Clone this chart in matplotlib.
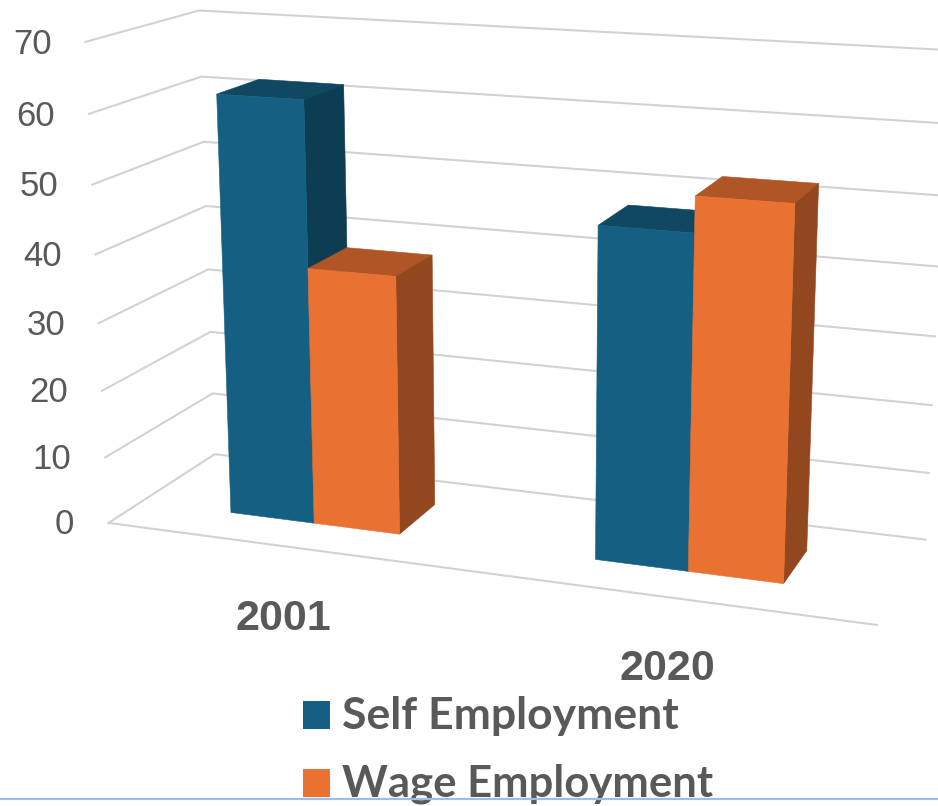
import numpy as np
import matplotlib.pyplot as plt
from matplotlib.patches import Rectangle

# Employment shares by year
years = ["2001", "2020"]
series_names = ["Self Employment", "Wage Employment"]
self_employment = [62.0, 47.6]
wage_employment = [38.0, 52.6]
ticks = [0, 10, 20, 30, 40, 50, 60, 70]

front_colors = ["#156082", "#E97132"]
top_colors = ["#104861", "#AF5526"]
side_colors = ["#0D3D52", "#93471E"]
grid_color = "#D2D2D2"
text_color = "#595959"

# Pixel positions of the gridline ends, used to fit the camera
front_ends = [(108.3, 522.7), (105, 457.7), (102, 390.7), (99, 323.3),
              (96, 254), (92.3, 184.3), (89, 114), (85.7, 42)]
back_ends = [(215, 454), (212.7, 394), (210, 331.7), (208.7, 269),
             (206.7, 206), (204, 141.7), (200.7, 76.7), (198, 10.7)]
right_ends = [(925.7, 539.7), (928.3, 473), (931.7, 405.3), (935, 336),
              (938, 266.7), (941.5, 195), (945, 123.3), (948, 50.5)]
floor_corner = (876.7, 625)


def fit_camera():
    # Direct linear transform from (x, value, depth) to pixels
    pts = []
    for i, v in enumerate(ticks):
        pts.append((0, v / 70, 0, *front_ends[i]))
        pts.append((0, v / 70, 1, *back_ends[i]))
        pts.append((1, v / 70, 1, *right_ends[i]))
    pts.append((1, 0, 0, *floor_corner))
    A, b = [], []
    for X, V, D, u, w in pts:
        A.append([X, V, D, 1, 0, 0, 0, 0, -u * X, -u * V, -u * D])
        b.append(u)
        A.append([0, 0, 0, 0, X, V, D, 1, -w * X, -w * V, -w * D])
        b.append(w)
    p = np.linalg.lstsq(np.array(A), np.array(b), rcond=None)[0]
    return np.append(p, 1).reshape(3, 4)


P = fit_camera()


def project(x, value, depth):
    r = P @ np.array([x, value / 70, depth, 1])
    return r[0] / r[2], r[1] / r[2]


def face(corners, color):
    xy = np.array([project(*c) for c in corners])
    ax.fill(xy[:, 0], xy[:, 1], color=color, lw=0.4, zorder=3)


def draw_bar(x0, x1, value, k):
    d0, d1 = 0.30, 0.70
    face([(x0, value, d0), (x1, value, d0), (x1, value, d1), (x0, value, d1)], top_colors[k])
    face([(x1, 0, d0), (x1, value, d0), (x1, value, d1), (x1, 0, d1)], side_colors[k])
    face([(x0, 0, d0), (x1, 0, d0), (x1, value, d0), (x0, value, d0)], front_colors[k])


fig = plt.figure(figsize=(9.38, 8.06), dpi=100)
ax = fig.add_axes([0, 0, 1, 1])
ax.set_xlim(0, 938)
ax.set_ylim(806, 0)
ax.axis("off")

# Walls
for v in ticks:
    xy = np.array([project(0, v, 0), project(0, v, 1), project(1, v, 1)])
    ax.plot(xy[:, 0], xy[:, 1], color=grid_color, lw=1.5, zorder=1)
xy = np.array([project(0, 0, 0), project(1, 0, 0)])
ax.plot(xy[:, 0], xy[:, 1], color=grid_color, lw=1.5, zorder=1)

# Bars, two to a year, with the gap shared out on either side
band = 0.5
bar_w = 0.119
offset = 0.13
for i in range(len(years)):
    x0 = i * band + offset
    draw_bar(x0, x0 + bar_w, self_employment[i], 0)
    draw_bar(x0 + bar_w, x0 + 2 * bar_w, wage_employment[i], 1)

# Value labels along the left wall
for v, (x, y) in zip(ticks, front_ends):
    ax.text(x - 34, y + 2, str(v), ha="right", va="center", color=text_color,
            fontsize=25, family="Liberation Sans")

# Year labels
ax.text(283, 630, years[0], ha="center", va="baseline", color=text_color,
        fontsize=31, fontweight="bold", family="Liberation Sans")
ax.text(667, 680, years[1], ha="center", va="baseline", color=text_color,
        fontsize=31, fontweight="bold", family="Liberation Sans")

# Legend
for k, (name, top, size) in enumerate(zip(series_names, [701, 769], [32, 31.4])):
    ax.add_patch(Rectangle((303, top), 27, 28, color=front_colors[k], lw=0, zorder=3))
    ax.text(342, top + 28, name, ha="left", va="baseline", color=text_color,
            fontsize=size, fontweight="bold", family="Lato")

ax.axhline(799, color="#9DBDE3", lw=1.6, zorder=5)

fig.savefig("out.png", dpi=100)
